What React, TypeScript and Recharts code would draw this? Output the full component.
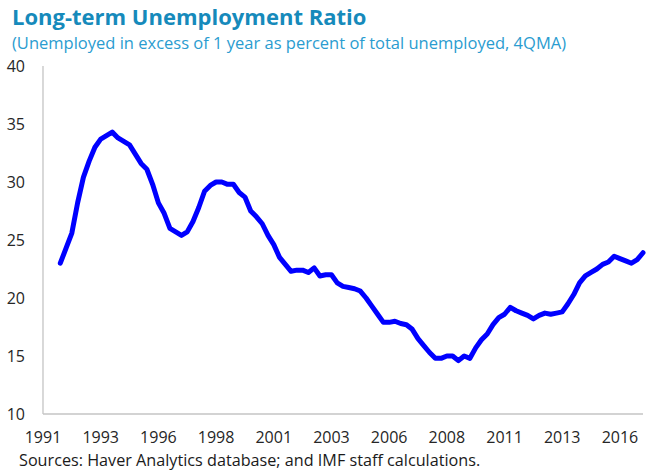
import React from "react";
import { LineChart, Line, XAxis, YAxis } from "recharts";

// Quarterly categories 1991Q1 .. 2017Q1
const years: number[] = [1991, 1992, 1993, 1994, 1995, 1996, 1997, 1998, 1999, 2000, 2001, 2002, 2003, 2004, 2005, 2006, 2007, 2008, 2009, 2010, 2011, 2012, 2013, 2014, 2015, 2016, 2017];
const quarters: string[] = ["Q1", "Q2", "Q3", "Q4"];

// Long-term unemployment ratio (4QMA), starting 1991Q4 (first three quarters empty)
const ratio: (number | null)[] = [
  null, null, null,
  23.0, 24.3, 25.6, 28.2, 30.4, 31.8, 33.0, 33.7, 34.0, 34.3,
  33.8, 33.5, 33.2, 32.4, 31.6, 31.1, 29.8, 28.2, 27.3, 26.0,
  25.7, 25.4, 25.7, 26.6, 27.8, 29.2, 29.7, 30.0, 30.0, 29.8,
  29.8, 29.1, 28.7, 27.5, 27.0, 26.4, 25.4, 24.6, 23.5, 22.9,
  22.3, 22.4, 22.4, 22.2, 22.6, 21.9, 22.0, 22.0, 21.3, 21.0,
  20.9, 20.8, 20.6, 20.0, 19.3, 18.6, 17.9, 17.9, 18.0, 17.8,
  17.7, 17.3, 16.5, 15.9, 15.3, 14.8, 14.8, 15.0, 15.0, 14.6,
  15.0, 14.8, 15.7, 16.4, 16.9, 17.7, 18.3, 18.6, 19.2, 18.9,
  18.7, 18.5, 18.2, 18.5, 18.7, 18.6, 18.7, 18.8, 19.5, 20.3,
  21.3, 21.9, 22.2, 22.5, 22.9, 23.1, 23.6, 23.4, 23.2, 23.0,
  23.3, 23.9,
];

const yTicks: number[] = [10, 15, 20, 25, 30, 35, 40];

const titleText = "Long-term Unemployment Ratio";
const subtitleText = "(Unemployed in excess of 1 year as percent of total unemployed, 4QMA)";
const sourceText = "Sources: Haver Analytics database; and IMF staff calculations.";

const categories: string[] = [];
years.forEach((y) => quarters.forEach((q) => categories.push(`${y}${q}`)));
const data = ratio.map((v, i) => ({ q: categories[i], v }));

const FONT = "'Open Sans', 'Noto Sans', sans-serif";
const BORDER = { stroke: "#c4c4c4", strokeWidth: 1.3 };

export default function App() {
  return (
    <div style={{ position: "absolute", left: 0, top: 0, width: 647, height: 471, background: "#fff", fontFamily: FONT }}>
      <svg width={647} height={471} style={{ position: "absolute", left: 0, top: 0 }}>
        <text x={12} y={25} fontFamily={FONT} fontSize={22} fontWeight={700} fill="#168abb">{titleText}</text>
        <text x={12} y={49} fontFamily={FONT} fontSize={16.5} fill="#2a9cd0">{subtitleText}</text>
        <text x={19} y={466} fontFamily={FONT} fontSize={16.2} fill="#1a1a1a">{sourceText}</text>
      </svg>
      <div style={{ position: "absolute", left: 0, top: 0 }}>
        <LineChart width={647} height={471} data={data} margin={{ top: 66, right: 4, bottom: 0, left: 0 }}>
          <XAxis
            dataKey="q"
            interval={9}
            tickFormatter={(v: string) => v.slice(0, 4)}
            axisLine={BORDER}
            tickLine={false}
            tickSize={0}
            tickMargin={18}
            tick={{ fontSize: 16, fill: "#262626", fontFamily: FONT }}
            height={57}
          />
          <XAxis xAxisId="top" dataKey="q" orientation="top" height={0} tick={false} tickLine={false} axisLine={BORDER} />
          <YAxis
            domain={[10, 40]}
            ticks={yTicks}
            axisLine={BORDER}
            tickLine={false}
            tickSize={0}
            tickMargin={18}
            width={43}
            tick={{ fontSize: 16, fill: "#262626", fontFamily: FONT }}
          />
          <YAxis yAxisId="right" orientation="right" domain={[10, 40]} width={0} tick={false} tickLine={false} axisLine={BORDER} />
          <Line
            type="linear"
            dataKey="v"
            stroke="#0000ff"
            strokeWidth={5}
            dot={false}
            strokeLinejoin="round"
            strokeLinecap="round"
            isAnimationActive={false}
            connectNulls={false}
          />
        </LineChart>
      </div>
    </div>
  );
}
